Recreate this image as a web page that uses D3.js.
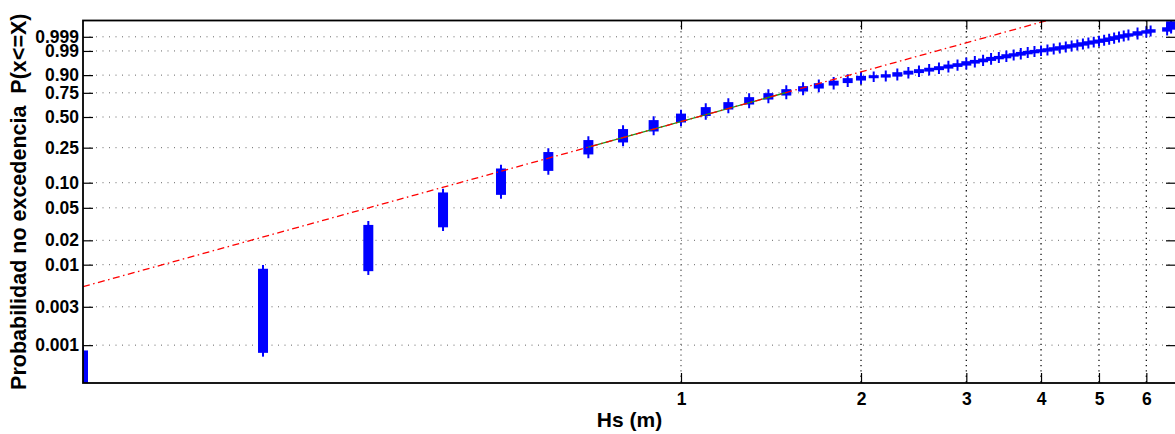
<!DOCTYPE html>
<html>
<head>
<meta charset="utf-8">
<script src="https://cdn.jsdelivr.net/npm/d3@7"></script>
<style>
  body { margin: 0; background: #fff; }
  svg { display: block; font-family: "Liberation Sans", Arial, sans-serif; }
</style>
</head>
<body>
<div id="chart"></div>
<script>
// Hs classes (m) and cumulative probability of the last sample in each class
const hsValues = [0.1, 0.2, 0.3, 0.4, 0.5, 0.6, 0.7, 0.8, 0.9, 1.0,
  1.1, 1.2, 1.3, 1.4, 1.5, 1.6, 1.7, 1.8, 1.9, 2.0,
  2.1, 2.2, 2.3, 2.4, 2.5, 2.6, 2.7, 2.8, 2.9, 3.0,
  3.1, 3.2, 3.3, 3.4, 3.5, 3.6, 3.7, 3.8, 3.9, 4.0,
  4.1, 4.2, 4.3, 4.4, 4.5, 4.6, 4.7, 4.8, 4.9, 5.0,
  5.1, 5.2, 5.3, 5.4, 5.5, 5.6, 5.8, 6.0, 6.1, 6.5, 6.6];
const pCum = [0.00083, 0.0086, 0.0299, 0.0741, 0.1419, 0.2175, 0.2923, 0.3774, 0.4582, 0.5220,
  0.589, 0.6415, 0.6938, 0.7348, 0.7742, 0.8024, 0.829, 0.850, 0.870, 0.887,
  0.8915, 0.898, 0.911, 0.920, 0.9285, 0.936, 0.9435, 0.951, 0.9563, 0.9637,
  0.968, 0.9722, 0.9765, 0.9789, 0.9826, 0.9845, 0.9868, 0.9884, 0.9898, 0.9907,
  0.99184, 0.99291, 0.99386, 0.9947, 0.99545, 0.99611, 0.99669, 0.9972, 0.99755, 0.99791,
  0.99825, 0.99857, 0.99886, 0.99907, 0.99924, 0.99938, 0.9996, 0.99968, 0.99975, 0.999845, 0.99997];
const pStart = 0.0003; // first sample, below the visible range

const yTickValues = [0.001, 0.003, 0.01, 0.02, 0.05, 0.10, 0.25, 0.50, 0.75, 0.90, 0.99, 0.999];
const yTickLabels = ['0.001', '0.003', '0.01', '0.02', '0.05', '0.10', '0.25', '0.50', '0.75', '0.90', '0.99', '0.999'];
const xTickValues = [1, 2, 3, 4, 5, 6];

// Weibull fit (shape, scale) and the Hs range used for the fit
const weibullK = 2.056;
const weibullLambda = 1.2734;
const fitRange = [0.7, 1.5];

const width = 1175, height = 434;
const plotLeft = 83, plotRight = 1176, plotTop = 20.5, plotBottom = 383;

const weib = p => Math.log(-Math.log(1 - p));

const x = d3.scaleLog().domain([0.1, 6.726]).range([plotLeft, plotRight]);
const y = d3.scaleLinear().domain([weib(0.000338), weib(0.9999837)]).range([plotBottom, plotTop]);
const yp = p => y(weib(p));

const svg = d3.select('#chart').append('svg')
  .attr('width', width)
  .attr('height', height);

svg.append('clipPath').attr('id', 'plot-clip')
  .append('rect')
  .attr('x', plotLeft).attr('y', plotTop)
  .attr('width', plotRight - plotLeft).attr('height', plotBottom - plotTop);

// grid
svg.append('g')
  .selectAll('line')
  .data(yTickValues)
  .enter()
  .append('line')
  .attr('x1', plotLeft).attr('x2', plotRight)
  .attr('y1', d => yp(d)).attr('y2', d => yp(d))
  .attr('stroke', '#666')
  .attr('stroke-width', 1)
  .attr('stroke-dasharray', '1,5.5');

svg.append('g')
  .selectAll('line')
  .data(xTickValues)
  .enter()
  .append('line')
  .attr('x1', d => x(d)).attr('x2', d => x(d))
  .attr('y1', plotTop).attr('y2', plotBottom)
  .attr('stroke', (d, i) => i === 0 ? '#666' : '#111')
  .attr('stroke-width', 1.3)
  .attr('stroke-dasharray', '1.3,4');

// samples: one stack of + markers per Hs class
const plot = svg.append('g').attr('clip-path', 'url(#plot-clip)');

const clusters = hsValues.map((h, i) => ({
  hs: h,
  pLo: i === 0 ? pStart : pCum[i - 1],
  pHi: pCum[i]
}));

const marks = plot.selectAll('g.cluster')
  .data(clusters)
  .enter()
  .append('g')
  .attr('class', 'cluster');

marks.append('rect')
  .attr('x', d => x(d.hs) - 5)
  .attr('width', 10)
  .attr('y', d => yp(d.pHi) - 1.2)
  .attr('height', d => yp(d.pLo) - yp(d.pHi) + 2.4)
  .attr('fill', '#0000ff');

marks.append('line')
  .attr('x1', d => x(d.hs)).attr('x2', d => x(d.hs))
  .attr('y1', d => yp(d.pHi) - 5)
  .attr('y2', d => yp(d.pLo) + 5)
  .attr('stroke', '#0000ff')
  .attr('stroke-width', 2);

// fitted Weibull line (straight on these axes)
const fitP = h => 1 - Math.exp(-Math.pow(h / weibullLambda, weibullK));
const fitLine = d3.line().x(d => x(d)).y(d => yp(fitP(d)));

plot.append('path')
  .datum(fitRange)
  .attr('d', fitLine)
  .attr('fill', 'none')
  .attr('stroke', '#1a9a1a')
  .attr('stroke-width', 1.4);

plot.append('path')
  .datum([0.1, 6.726])
  .attr('d', fitLine)
  .attr('fill', 'none')
  .attr('stroke', '#ff0000')
  .attr('stroke-width', 1.3)
  .attr('stroke-dasharray', '7,3.5,1.5,3.5');

// axes
const yAxis = d3.axisLeft(y)
  .tickValues(yTickValues.map(weib))
  .tickFormat((d, i) => yTickLabels[i])
  .tickSize(-10)
  .tickPadding(4);

const yAxisRight = d3.axisRight(y)
  .tickValues(yTickValues.map(weib))
  .tickFormat('')
  .tickSize(-10);

const xAxis = d3.axisBottom(x)
  .tickValues(xTickValues)
  .tickFormat(d3.format('d'))
  .tickSize(-10)
  .tickPadding(10);

const xAxisTop = d3.axisTop(x)
  .tickValues(xTickValues)
  .tickFormat('')
  .tickSize(-9);

function styleAxis(g) {
  g.select('.domain').remove();
  g.selectAll('.tick line').attr('stroke', '#000').attr('stroke-width', 1.2);
  g.selectAll('.tick text')
    .attr('fill', '#000')
    .style('font-size', '17.5px')
    .style('font-weight', 'bold');
}

svg.append('g').attr('transform', `translate(${plotLeft},0)`).call(yAxis).call(styleAxis);
svg.append('g').attr('transform', `translate(${plotRight},0)`).call(yAxisRight).call(styleAxis);
svg.append('g').attr('transform', `translate(0,${plotBottom})`).call(xAxis).call(styleAxis);
svg.append('g').attr('transform', `translate(0,${plotTop})`).call(xAxisTop).call(styleAxis);

svg.append('rect')
  .attr('x', plotLeft).attr('y', plotTop)
  .attr('width', plotRight - plotLeft).attr('height', plotBottom - plotTop)
  .attr('fill', 'none')
  .attr('stroke', '#000')
  .attr('stroke-width', 1.8);

// labels
svg.append('text')
  .attr('x', (plotLeft + plotRight) / 2)
  .attr('y', 427)
  .attr('text-anchor', 'middle')
  .style('font-size', '21px')
  .style('font-weight', 'bold')
  .text('Hs (m)');

svg.append('text')
  .attr('transform', `translate(26,${(plotTop + plotBottom) / 2}) rotate(-90)`)
  .attr('text-anchor', 'middle')
  .style('font-size', '21.5px')
  .style('font-weight', 'bold')
  .style('white-space', 'pre')
  .text('Probabilidad no excedencia  P(x<=X)');
</script>
</body>
</html>
